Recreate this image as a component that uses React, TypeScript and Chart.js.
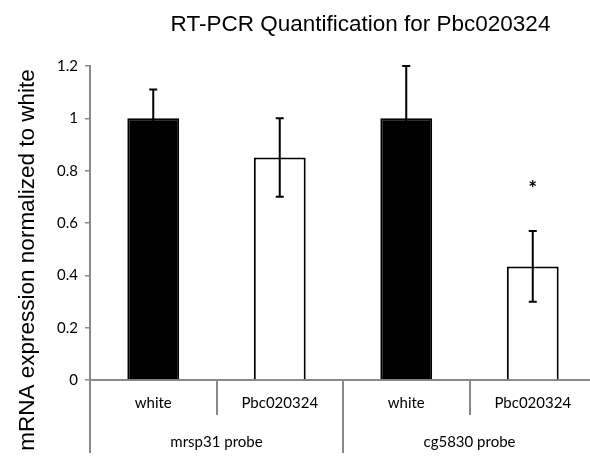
import React, { useEffect, useRef } from "react";
import { Chart, registerables } from "chart.js";
Chart.register(...registerables);

const categories = ["white", "Pbc020324", "white", "Pbc020324"];
const groups = ["mrsp31 probe", "cg5830 probe"];
const groupSizes = [2, 2];
const values = [1.0, 0.85, 1.0, 0.434];
const errors = [0.11, 0.15, 0.2, 0.135];
const fills = ["#000000", "#ffffff", "#000000", "#ffffff"];
const starValues = [null, null, null, 0.75];
const yTickValues = [0, 0.2, 0.4, 0.6, 0.8, 1, 1.2];
const titleText = "RT-PCR Quantification for Pbc020324";
const yTitleText = "mRNA expression normalized to white";

const AXIS = "#898989";
const TICK_FONT = "15px Lato";

export default function App() {
  const ref = useRef<HTMLCanvasElement | null>(null);
  useEffect(() => {
    document.body.style.margin = "0";
    const canvas = ref.current!;
    const overlay = {
      id: "overlay",
      afterDraw(chart: any) {
        const ctx = chart.ctx;
        const x = chart.scales.x;
        const y = chart.scales.y;
        const area = chart.chartArea;
        const bottom = area.bottom;
        ctx.save();
        // error bars
        ctx.strokeStyle = "#000";
        ctx.lineWidth = 2;
        values.forEach((v, i) => {
          const px = x.getPixelForValue(i);
          const top = y.getPixelForValue(v + errors[i]);
          const low = y.getPixelForValue(v - errors[i]);
          ctx.beginPath();
          ctx.moveTo(px, top);
          ctx.lineTo(px, low);
          ctx.moveTo(px - 4, top);
          ctx.lineTo(px + 4, top);
          ctx.moveTo(px - 4, low);
          ctx.lineTo(px + 4, low);
          ctx.stroke();
        });
        // stars
        ctx.fillStyle = "#000";
        ctx.font = "bold 21px Lato";
        ctx.textAlign = "center";
        ctx.textBaseline = "alphabetic";
        starValues.forEach((s, i) => {
          if (s == null) return;
          ctx.fillText("*", x.getPixelForValue(i), y.getPixelForValue(s) + 12);
        });
        // boundaries
        const bound = (k: number) => {
          if (k <= 0) return area.left;
          if (k >= categories.length) return area.right;
          return (x.getPixelForValue(k - 1) + x.getPixelForValue(k)) / 2;
        };
        ctx.strokeStyle = AXIS;
        ctx.lineWidth = 2;
        const groupStarts: number[] = [];
        let acc = 0;
        groupSizes.forEach((g) => {
          groupStarts.push(acc);
          acc += g;
        });
        groupStarts.push(acc);
        for (let k = 0; k <= categories.length; k++) {
          const isGroup = groupStarts.includes(k);
          const bx = Math.round(bound(k));
          ctx.beginPath();
          ctx.moveTo(bx, bottom);
          ctx.lineTo(bx, isGroup ? 453 : 415);
          ctx.stroke();
        }
        // category labels
        ctx.fillStyle = "#000";
        ctx.font = TICK_FONT;
        ctx.textAlign = "center";
        ctx.textBaseline = "middle";
        categories.forEach((c, i) => {
          ctx.fillText(c, x.getPixelForValue(i), 403);
        });
        groups.forEach((g, gi) => {
          const cx = (bound(groupStarts[gi]) + bound(groupStarts[gi + 1])) / 2;
          ctx.fillText(g, cx, 442);
        });
        // titles
        ctx.font = '22.5px "Liberation Sans", Arial, sans-serif';
        ctx.textBaseline = "alphabetic";
        ctx.textAlign = "center";
        ctx.fillText(titleText, 360.5, 31);
        ctx.save();
        ctx.translate(34, 260);
        ctx.rotate(-Math.PI / 2);
        ctx.fillText(yTitleText, 0, 0);
        ctx.restore();
        ctx.restore();
      },
    };
    const chart = new Chart(canvas, {
      type: "bar",
      data: {
        labels: categories,
        datasets: [
          {
            data: values,
            backgroundColor: fills,
            borderColor: "#000",
            borderWidth: 2,
            barPercentage: 0.41,
            categoryPercentage: 1,
          },
        ],
      },
      options: {
        responsive: false,
        animation: false,
        events: [],
        layout: { padding: { top: 66, right: 4, bottom: 78, left: 0 } },
        plugins: {
          legend: { display: false },
          title: { display: false },
          tooltip: { enabled: false },
        },
        scales: {
          x: {
            ticks: { display: false },
            grid: { display: false },
            border: { display: true, color: AXIS, width: 2 },
            afterFit(scale: any) {
              scale.height = 0;
            },
          },
          y: {
            min: 0,
            max: 1.2,
            afterBuildTicks(scale: any) {
              scale.ticks = yTickValues.map((v) => ({ value: v }));
            },
            ticks: {
              color: "#000",
              font: { family: "Lato", size: 15 },
              padding: 7,
              callback: (v: any) => String(Math.round(Number(v) * 10) / 10),
            },
            grid: {
              drawOnChartArea: false,
              drawTicks: true,
              tickLength: 5,
              color: AXIS,
              lineWidth: 1.5,
            },
            border: { display: true, color: AXIS, width: 2 },
            afterFit(scale: any) {
              scale.width = 90;
            },
          },
        },
      },
      plugins: [overlay],
    });
    return () => chart.destroy();
  }, []);
  return (
    <div style={{ width: 590, height: 458, overflow: "hidden", background: "#fff" }}>
      <canvas ref={ref} width={600} height={458} style={{ display: "block", width: 600, height: 458 }} />
    </div>
  );
}
